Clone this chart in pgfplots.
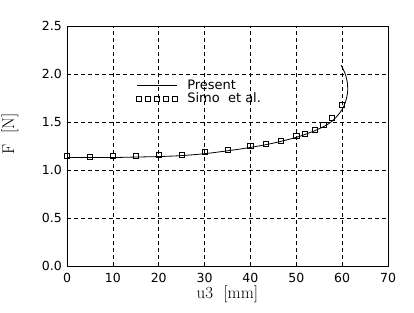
\documentclass[border=0pt]{standalone}
\usepackage{fontspec}
\setsansfont{DejaVu Sans}
\usepackage{pgfplots}
\pgfplotsset{compat=1.18}
\begin{document}
\begin{tikzpicture}
\begin{axis}[
  scale only axis, width=321pt, height=240pt,
  xmin=0, xmax=70, ymin=0, ymax=2.5,
  xtick={0,10,...,70}, ytick={0,0.5,...,2.5},
  yticklabel style={/pgf/number format/fixed,/pgf/number format/fixed zerofill,/pgf/number format/precision=1},
  /pgf/number format/assume math mode=true,
  tick label style={font=\sffamily\fontsize{12.5}{13}\selectfont, inner sep=1pt},
  xticklabel style={yshift=-6pt},
  yticklabel style={xshift=-4pt},
  major tick length=0pt,
  grid=major,
  major grid style={black, line width=0.7pt, dash pattern=on 4pt off 3pt},
  axis line style={line width=0.8pt},
  xlabel={u3\ \ [mm]}, ylabel={F\ \ [N]},
  label style={font=\fontsize{17}{18}\selectfont},
  xlabel style={at={(axis description cs:0.5,0)}, anchor=north, inner sep=0pt, yshift=-20pt},
  ylabel style={at={(axis description cs:-0.178,0.55)}, anchor=center, inner sep=0pt},
  legend style={draw=none, fill=none, at={(axis cs:14.9,1.95)}, anchor=north west,
    font=\sffamily\fontsize{13}{14}\selectfont, row sep=0pt, inner sep=0pt,
    nodes={inner sep=1pt}},
  legend cell align=left,
]
\addplot[black, line width=0.8pt, smooth,
  legend image code/.code={\draw[black, line width=0.7pt] (1pt,0pt) -- (41pt,0pt); \path (50pt,0pt);}] coordinates {
(0,1.13) (5,1.13) (10,1.13) (15,1.135) (20,1.14) (25,1.15) (30,1.17) (35,1.20) (40,1.235) (45,1.28) (50,1.34) (53,1.39) (55,1.43) (57,1.48) (58.5,1.54) (60,1.63) (60.8,1.72) (61.2,1.82) (61.1,1.92) (60.6,2.01) (59.8,2.09)
};
\addlegendentry{Present}
\addplot[only marks, mark=square, mark size=2.6pt, mark options={black, line width=0.7pt},
  legend image code/.code={
    \foreach \i in {0,...,4}{\draw[black, line width=0.7pt] (\i*9pt,-2.8pt) rectangle (\i*9pt+5.6pt,2.8pt);}
    \path (50pt,0pt);
  }] coordinates {
(0,1.145) (5,1.14) (10,1.145) (15,1.15) (20,1.155) (25,1.16) (30,1.185) (35,1.21) (40,1.248) (43.3,1.27) (46.7,1.30) (50,1.352) (51.8,1.375) (54,1.42) (55.9,1.472) (57.8,1.541) (60,1.679)
};
\addlegendentry{Simo\ \ et\ al.}
\end{axis}
\path (current axis.south west) ++(-67pt,-46pt) coordinate (bl);
\path (current axis.north east) ++(26pt,26pt) coordinate (tr);
\useasboundingbox (bl) rectangle (tr);
\end{tikzpicture}
\end{document}
